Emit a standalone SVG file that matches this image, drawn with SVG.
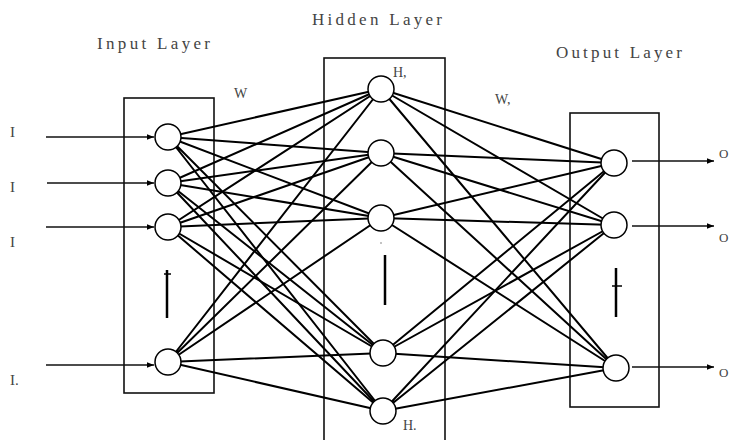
<svg xmlns="http://www.w3.org/2000/svg" width="730" height="440" viewBox="0 0 730 440">
<style>
.box{fill:none;stroke:#111;stroke-width:1.6}
.c{stroke:#000;stroke-width:2;fill:none}
.io{stroke:#111;stroke-width:1.6;fill:none}
.n{fill:#fff;stroke:#000;stroke-width:1.5}
.t{font-family:"Liberation Serif",serif;fill:#444}
.bar{stroke:#000;stroke-width:2.5}
</style>
<defs>
<marker id="ah" viewBox="0 0 10 10" refX="10" refY="5" markerWidth="9" markerHeight="7" markerUnits="userSpaceOnUse" orient="auto">
<path d="M0,1 L10,5 L0,9 Z" fill="#000"/>
</marker>
</defs>
<rect width="730" height="440" fill="#fff"/>
<g id="boxes">
<rect class="box" x="124" y="98" width="90" height="295"/>
<rect class="box" x="324" y="58" width="121" height="400"/>
<rect class="box" x="570" y="113" width="89" height="294"/>
</g>
<g id="titles">
<text class="t" x="97" y="49" font-size="17" textLength="113" lengthAdjust="spacing">Input Layer</text>
<text class="t" x="312" y="25" font-size="17" textLength="130" lengthAdjust="spacing">Hidden Layer</text>
<text class="t" x="556" y="58" font-size="17" textLength="126" lengthAdjust="spacing">Output Layer</text>
<text class="t" x="234" y="98" font-size="14">W</text>
<text class="t" x="495" y="104" font-size="14">W,</text>
<text class="t" x="10" y="137" font-size="15">I</text>
<text class="t" x="10" y="192" font-size="15">I</text>
<text class="t" x="10" y="247" font-size="15">I</text>
<text class="t" x="10" y="385" font-size="15">I.</text>
<text class="t" x="719" y="158" font-size="13">O</text>
<text class="t" x="719" y="242" font-size="13">O</text>
<text class="t" x="719" y="377" font-size="13">O</text>
</g>
<g id="connectors">
<g id="io-arrows">
<line class="io" x1="46" y1="137" x2="154" y2="137" marker-end="url(#ah)"/>
<line class="io" x1="47" y1="183" x2="154" y2="183" marker-end="url(#ah)"/>
<line class="io" x1="46" y1="227" x2="154" y2="227" marker-end="url(#ah)"/>
<line class="io" x1="46" y1="365" x2="154" y2="365" marker-end="url(#ah)"/>
<line class="io" x1="632" y1="161" x2="714" y2="161" marker-end="url(#ah)"/>
<line class="io" x1="632" y1="226" x2="714" y2="226" marker-end="url(#ah)"/>
<line class="io" x1="632" y1="367" x2="714" y2="367" marker-end="url(#ah)"/>
</g>
<g id="w-ih">
<path class="c" d="M168,137 L381,89 M168,137 L381,153 M168,137 L381,218 M168,137 L383,353 M168,137 L383,411"/>
<path class="c" d="M168,183 L381,89 M168,183 L381,153 M168,183 L381,218 M168,183 L383,353 M168,183 L383,411"/>
<path class="c" d="M168,227 L381,89 M168,227 L381,153 M168,227 L381,218 M168,227 L383,353 M168,227 L383,411"/>
<path class="c" d="M168,362 L381,89 M168,362 L381,153 M168,362 L381,218 M168,362 L383,353 M168,362 L383,411"/>
</g>
<g id="w-ho">
<path class="c" d="M381,89 L614,163 M381,89 L614,225 M381,89 L616,368"/>
<path class="c" d="M381,153 L614,163 M381,153 L614,225 M381,153 L616,368"/>
<path class="c" d="M381,218 L614,163 M381,218 L614,225 M381,218 L616,368"/>
<path class="c" d="M383,353 L614,163 M383,353 L614,225 M383,353 L616,368"/>
<path class="c" d="M383,411 L614,163 M383,411 L614,225 M383,411 L616,368"/>
</g>
</g>
<g id="ellipsis">
<line class="bar" x1="167" y1="270" x2="167" y2="318"/>
<line x1="164" y1="274" x2="171" y2="274" stroke="#000" stroke-width="1.5"/>
<line class="bar" x1="385" y1="255" x2="385" y2="305"/>
<circle cx="381" cy="243" r="0.8" fill="#777"/>
<line class="bar" x1="616" y1="268" x2="616" y2="317"/>
<line x1="612" y1="286" x2="622" y2="286" stroke="#000" stroke-width="1.5"/>
</g>
<g id="I1"><circle class="n" cx="168" cy="137" r="13"/></g>
<g id="I2"><circle class="n" cx="168" cy="183" r="13"/></g>
<g id="I3"><circle class="n" cx="168" cy="227" r="13"/></g>
<g id="I4"><circle class="n" cx="168" cy="362" r="13"/></g>
<g id="H1"><circle class="n" cx="381" cy="89" r="13"/><text class="t" x="393" y="77" font-size="14">H,</text></g>
<g id="H2"><circle class="n" cx="381" cy="153" r="13"/></g>
<g id="H3"><circle class="n" cx="381" cy="218" r="13"/></g>
<g id="H4"><circle class="n" cx="383" cy="353" r="13"/></g>
<g id="H5"><circle class="n" cx="383" cy="411" r="13"/><text class="t" x="403" y="430" font-size="14">H.</text></g>
<g id="O1"><circle class="n" cx="614" cy="163" r="13"/></g>
<g id="O2"><circle class="n" cx="614" cy="225" r="13"/></g>
<g id="O3"><circle class="n" cx="616" cy="368" r="13"/></g>
</svg>
